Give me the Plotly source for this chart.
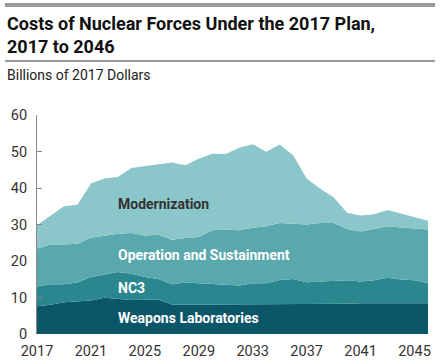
import plotly.graph_objects as go

years = list(range(2017, 2047))
weapons_labs = [7.6, 8.0, 8.7, 8.9, 9.2, 9.9, 9.7, 9.3, 9.4, 9.4, 8.1, 8.0, 8.1, 8.1, 8.1,
                8.1, 8.2, 8.2, 8.2, 8.2, 8.2, 8.2, 8.3, 8.3, 8.4, 8.4, 8.4, 8.4, 8.4, 8.4]
nc3 = [5.4, 5.6, 4.9, 5.2, 6.4, 6.4, 7.3, 7.2, 6.2, 5.7, 5.5, 6.1, 5.8, 5.8, 5.6,
       5.2, 5.7, 5.7, 6.6, 6.9, 6.0, 6.2, 6.1, 6.4, 6.0, 6.3, 7.0, 6.5, 6.3, 5.5]
operation_sustainment = [10.4, 10.9, 10.9, 10.6, 10.8, 10.6, 10.5, 11.2, 11.4, 12.1, 12.2, 12.2, 12.7, 14.5, 14.9,
                         15.1, 15.2, 15.6, 15.6, 15.1, 15.8, 16.0, 16.0, 14.1, 13.7, 14.1, 14.1, 14.3, 14.3, 14.7]
modernization = [6.4, 8.0, 10.5, 10.7, 14.8, 15.7, 15.5, 17.8, 19.0, 19.5, 21.2, 19.9, 21.4, 21.0, 20.7,
                 22.6, 22.9, 20.4, 21.5, 18.8, 12.6, 9.4, 7.1, 4.4, 4.4, 4.0, 4.5, 3.8, 2.9, 2.4]
x_tick_vals = [2017, 2021, 2025, 2029, 2033, 2037, 2041, 2045]
y_tick_vals = [0, 10, 20, 30, 40, 50, 60]

series = [
    ("Weapons Laboratories", weapons_labs, "#0b5669"),
    ("NC3", nc3, "#2b878f"),
    ("Operation and Sustainment", operation_sustainment, "#58a8ad"),
    ("Modernization", modernization, "#8bc6ca"),
]

W, H = 440, 364
L, R, T, B = 37, 12, 115, 30
PW, PH = W - L - R, H - T - B

def px(xp):
    return (xp - L) / PW

def py(yp):
    return (H - B - yp) / PH

FONT = "Roboto, Arial, sans-serif"

fig = go.Figure()
for name, vals, color in series:
    fig.add_trace(go.Scatter(
        x=years, y=vals, name=name, mode="lines", stackgroup="one",
        line=dict(width=0, color=color), fillcolor=color, hoverinfo="x+y+name",
    ))

labels = [
    ("Modernization", 35.5, "#333333"),
    ("Operation and Sustainment", 21.6, "#ffffff"),
    ("NC3", 12.7, "#ffffff"),
    ("Weapons Laboratories", 4.4, "#ffffff"),
]
annotations = []
for text, yv, col in labels:
    annotations.append(dict(x=2023.0, y=yv, xref="x", yref="y", text="<b>%s</b>" % text,
                            showarrow=False, xanchor="left", yanchor="middle", xshift=-2,
                            font=dict(family=FONT, size=14, color=col)))

annotations += [
    dict(x=px(5), y=py(23), xref="paper", yref="paper", text="<b>Costs of Nuclear Forces Under the 2017 Plan,</b>",
         showarrow=False, xanchor="left", yanchor="middle", font=dict(family=FONT, size=18, color="#111111")),
    dict(x=px(5), y=py(46), xref="paper", yref="paper", text="<b>2017 to 2046</b>",
         showarrow=False, xanchor="left", yanchor="middle", font=dict(family=FONT, size=18, color="#111111")),
    dict(x=px(5), y=py(75), xref="paper", yref="paper", text="Billions of 2017 Dollars",
         showarrow=False, xanchor="left", yanchor="middle", font=dict(family=FONT, size=14, color="#222222")),
]

shapes = [
    dict(type="rect", xref="paper", yref="paper", x0=px(5), x1=px(435), y0=py(7), y1=py(3),
         fillcolor="#9a9a9a", line=dict(width=0)),
    dict(type="line", xref="paper", yref="paper", x0=px(5), x1=px(435), y0=py(61), y1=py(61),
         line=dict(color="#333333", width=1)),
]

fig.update_layout(
    width=W, height=H, margin=dict(l=L, r=R, t=T, b=B, autoexpand=False),
    paper_bgcolor="white", plot_bgcolor="white", showlegend=False,
    annotations=annotations, shapes=shapes,
    font=dict(family=FONT, size=14, color="#333333"),
)
fig.update_xaxes(range=[2017, 2046], tickvals=x_tick_vals, showgrid=False, zeroline=False,
                 showline=False, ticks="", ticklabelstandoff=6, automargin=False,
                 tickfont=dict(family=FONT, size=14.5, color="#333333"))
fig.update_yaxes(range=[0, 60], tickvals=y_tick_vals, showgrid=False, zeroline=False,
                 showline=True, linecolor="#888888", linewidth=1, ticks="inside", ticklen=5,
                 tickcolor="#888888", ticklabelstandoff=6, automargin=False,
                 tickfont=dict(family=FONT, size=14.5, color="#333333"))

fig.write_html("out.html", config=dict(displayModeBar=False),
               post_script="document.body.style.margin='0';document.body.style.overflow='hidden';")
